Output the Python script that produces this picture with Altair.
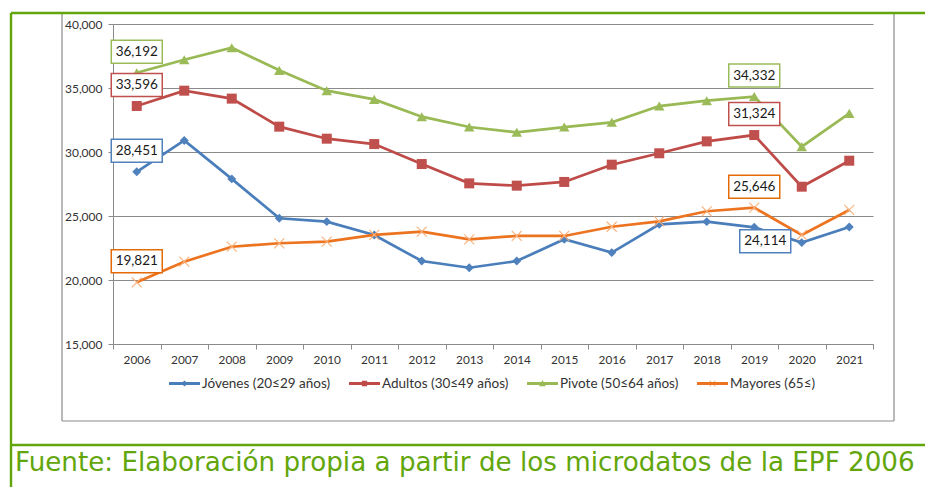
import altair as alt
import pandas as pd

# ---------------- data ----------------
years = [str(y) for y in range(2006, 2022)]
series_names = ["Jóvenes (20≤29 años)", "Adultos (30≤49 años)",
                "Pivote (50≤64 años)", "Mayores (65≤)"]
jovenes = [28451, 30900, 27900, 24820, 24560, 23520, 21480, 20960,
           21480, 23180, 22140, 24350, 24560, 24114, 22920, 24140]
adultos = [33596, 34790, 34170, 31980, 31040, 30620, 29060, 27550,
           27370, 27660, 29010, 29900, 30830, 31324, 27290, 29320]
pivote = [36192, 37210, 38150, 36380, 34790, 34110, 32760, 31950,
          31540, 31950, 32320, 33590, 34010, 34332, 30420, 33020]
mayores = [19821, 21430, 22600, 22870, 23000, 23520, 23780, 23180,
           23440, 23440, 24160, 24580, 25370, 25646, 23520, 25470]
y_ticks = [15000, 20000, 25000, 30000, 35000, 40000]

# labelled points: (series, year)
labels_above = [("Pivote (50≤64 años)", "2006"), ("Adultos (30≤49 años)", "2006"),
                ("Jóvenes (20≤29 años)", "2006"), ("Mayores (65≤)", "2006"),
                ("Pivote (50≤64 años)", "2019"), ("Adultos (30≤49 años)", "2019"),
                ("Mayores (65≤)", "2019")]
labels_below = [("Jóvenes (20≤29 años)", "2019")]

source_text = "Fuente: Elaboración propia a partir de los microdatos de la EPF 2006"

# ---------------- tables ----------------
values_by_series = dict(zip(series_names, [jovenes, adultos, pivote, mayores]))
df = pd.DataFrame([
    {"year": yr, "series": s, "value": v}
    for s in series_names for yr, v in zip(years, values_by_series[s])
])


def label_table(pairs):
    rows = []
    for s, yr in pairs:
        v = values_by_series[s][years.index(yr)]
        rows.append({"year": yr, "series": s, "value": v, "label": f"{v:,}"})
    return pd.DataFrame(rows)


df_above = label_table(labels_above)
df_below = label_table(labels_below)
one = pd.DataFrame({"k": [0]})

# ---------------- styles ----------------
line_colors = ["#4a7ebb", "#be4b48", "#98b954", "#ec7420"]
marker_colors = ["#4f81bd", "#c0504d", "#9bbb59", "#f9b07a"]
box_colors = ["#4f81bd", "#c0504d", "#9bbb59", "#e36c09"]
green = "#62a60c"
gray = "#8a8a8a"
FONT = "Lato"

legend_paths = [
    "M-1,-0.09H1V0.09H-1Z M-0.2,0L0,-0.2L0.2,0L0,0.2Z",
    "M-1,-0.09H1V0.09H-1Z M-0.17,-0.17H0.17V0.17H-0.17Z",
    "M-1,-0.09H1V0.09H-1Z M0,-0.22L0.22,0.17H-0.22Z",
    "M-1,-0.09H1V0.09H-1Z M-0.2,-0.17L-0.17,-0.2L0.2,0.17L0.17,0.2Z M0.17,-0.2L0.2,-0.17L-0.17,0.2L-0.2,0.17Z",
]

x_axis = alt.Axis(title=None, labelFont=FONT, labelFontSize=11.8, labelColor="#333333",
                  labelAngle=0, tickBand="extent", tickSize=5, tickColor=gray,
                  domainColor=gray, labelPadding=5, grid=False)
y_axis = alt.Axis(title=None, values=y_ticks, format=",.0f", labelFont=FONT,
                  labelFontSize=12, labelColor="#333333", tickSize=5,
                  tickColor=gray, domainColor=gray, gridColor=gray,
                  gridWidth=1, grid=True, labelPadding=6)
x_scale = alt.Scale(type="band", domain=years, paddingInner=0, paddingOuter=0)
y_scale = alt.Scale(domain=[15000, 40000], nice=False, zero=False)
x_enc = alt.X("year:O", scale=x_scale, axis=x_axis)
y_enc = alt.Y("value:Q", scale=y_scale, axis=y_axis)

layers = []
shapes = ["diamond", "square", "triangle-up", "M-1,-1L1,1M-1,1L1,-1"]
sizes = [80, 100, 110, 100]
base = alt.Chart(df)
for i, s in enumerate(series_names):
    sub = base.transform_filter(alt.datum.series == s)
    layers.append(sub.mark_line(color=line_colors[i], strokeWidth=2.7).encode(x=x_enc, y=y_enc))
    if i < 3:
        layers.append(sub.mark_point(shape=shapes[i], filled=True, size=sizes[i],
                                     color=marker_colors[i], opacity=1).encode(x=x_enc, y=y_enc))
    else:
        layers.append(sub.mark_point(shape=shapes[i], filled=False, size=sizes[i],
                                     color=marker_colors[i], strokeWidth=1.1,
                                     opacity=1).encode(x=x_enc, y=y_enc))

# legend layer (marks clipped away, only the legend remains)
legend_df = pd.DataFrame({"series": series_names})
leg = alt.Legend(title=None, orient="none", legendX=56, legendY=344, direction="horizontal",
                 labelFont=FONT, labelFontSize=13.5, labelColor="#333333", labelOffset=2,
                 columnPadding=18, symbolSize=961, symbolStrokeWidth=0, padding=0)
layers.append(
    alt.Chart(legend_df).mark_point(filled=True, opacity=1, clip=True).encode(
        x=alt.X("year:O", scale=x_scale, axis=x_axis),
        y=alt.Y("value:Q", scale=y_scale, axis=y_axis),
        color=alt.Color("series:N", scale=alt.Scale(domain=series_names, range=line_colors), legend=leg),
        shape=alt.Shape("series:N", scale=alt.Scale(domain=series_names, range=legend_paths), legend=leg),
    ).transform_calculate(year="'2006'", value="0")
)

# value label boxes
box_path = "M-1,-0.451H1V0.451H-1Z"
stroke_enc = alt.Stroke("series:N", scale=alt.Scale(domain=series_names, range=box_colors), legend=None)
for tbl, dx, dy in [(df_above, 0, -21), (df_below, 11, 14)]:
    c = alt.Chart(tbl)
    layers.append(c.mark_point(shape=box_path, size=2601, filled=False, fill="white",
                               strokeWidth=1.5, opacity=1, xOffset=dx, yOffset=dy).encode(
        x=x_enc, y=y_enc, stroke=stroke_enc))
    layers.append(c.mark_text(font=FONT, fontSize=13.5, color="#1a1a1a", dx=dx, dy=dy,
                              baseline="middle", align="center").encode(
        x=x_enc, y=y_enc, text="label:N"))

# decorative frame (gray chart box and green outer frame) and source text
oc = alt.Chart(one)
def rule(x1, x2, y1, y2, color, w):
    return oc.mark_rule(color=color, strokeWidth=w).encode(
        x=alt.value(x1), x2=alt.value(x2), y=alt.value(y1), y2=alt.value(y2))

layers += [
    rule(-51, -51, -11, 397, gray, 1.2),
    rule(781, 781, -11, 397, gray, 1.2),
    rule(-51, 781, 397, 397, gray, 1.2),
    rule(-102, 812, -11, -11, green, 2.4),
    rule(-102, -102, -11, 470, green, 2.4),
    rule(-102, 812, 421, 421, green, 2.4),
    oc.mark_text(text=source_text, font="DejaVu Sans", fontSize=26.2, color=green,
                 align="left", baseline="alphabetic").encode(x=alt.value(-98), y=alt.value(447)),
]

chart = alt.layer(*layers).properties(
    width=760, height=320,
    autosize=alt.AutoSizeParams(type="none"),
    padding={"left": 105, "top": 16, "right": 52, "bottom": 143},
).configure_view(stroke=None)

chart.save("out.html", embed_options={"renderer": "svg", "actions": False})
